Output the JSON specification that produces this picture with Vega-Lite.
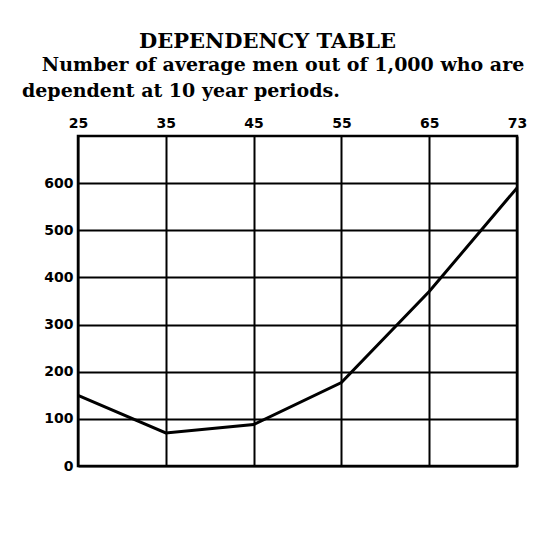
{
  "$schema": "https://vega.github.io/schema/vega-lite/v6.json",
  "autosize": "none",
  "width": 439,
  "height": 330,
  "padding": {"left": 78, "top": 136, "right": 35, "bottom": 82},
  "background": "white",
  "title": {
    "text": "\u200b\u00a0\u00a0\u00a0\u00a0\u00a0\u00a0\u00a0\u00a0\u00a0\u00a0\u00a0\u00a0\u00a0\u00a0\u00a0\u00a0DEPENDENCY TABLE",
    "subtitle": ["\u200b\u00a0\u00a0\u00a0Number of average men out of 1,000 who are", "dependent at 10 year periods."],
    "anchor": "start",
    "frame": "group",
    "orient": "top",
    "dx": -56,
    "offset": 15
  },
  "data": {
    "values": [
      {"age": "25", "dependent": 150},
      {"age": "35", "dependent": 70},
      {"age": "45", "dependent": 88},
      {"age": "55", "dependent": 177},
      {"age": "65", "dependent": 370},
      {"age": "73", "dependent": 590}
    ]
  },
  "mark": {"type": "line", "color": "black", "strokeWidth": 3, "clip": true},
  "encoding": {
    "x": {
      "field": "age",
      "type": "ordinal",
      "sort": null,
      "scale": {"type": "point", "padding": 0},
      "axis": {
        "orient": "top",
        "title": null,
        "labelAngle": 0,
        "grid": true,
        "gridColor": "black",
        "gridWidth": 2,
        "gridOpacity": 1,
        "domain": false,
        "ticks": false,
        "labelPadding": 6,
        "labelFont": "DejaVu Sans",
        "labelFontSize": 14,
        "labelFontWeight": "bold",
        "labelColor": "black"
      }
    },
    "y": {
      "field": "dependent",
      "type": "quantitative",
      "scale": {"domain": [0, 700], "nice": false},
      "axis": {
        "title": null,
        "values": [0, 100, 200, 300, 400, 500, 600],
        "grid": true,
        "gridColor": "black",
        "gridWidth": 2,
        "gridOpacity": 1,
        "domain": false,
        "ticks": false,
        "labelPadding": 5,
        "labelFont": "DejaVu Sans",
        "labelFontSize": 14,
        "labelFontWeight": "bold",
        "labelColor": "black"
      }
    }
  },
  "config": {
    "view": {"stroke": "black", "strokeWidth": 2.5},
    "title": {
      "font": "DejaVu Serif",
      "fontSize": 21,
      "fontWeight": "bold",
      "color": "black",
      "subtitleFont": "DejaVu Serif",
      "subtitleFontSize": 19,
      "subtitleFontWeight": "bold",
      "subtitleColor": "black",
      "subtitlePadding": 4,
      "subtitleLineHeight": 26
    }
  }
}
